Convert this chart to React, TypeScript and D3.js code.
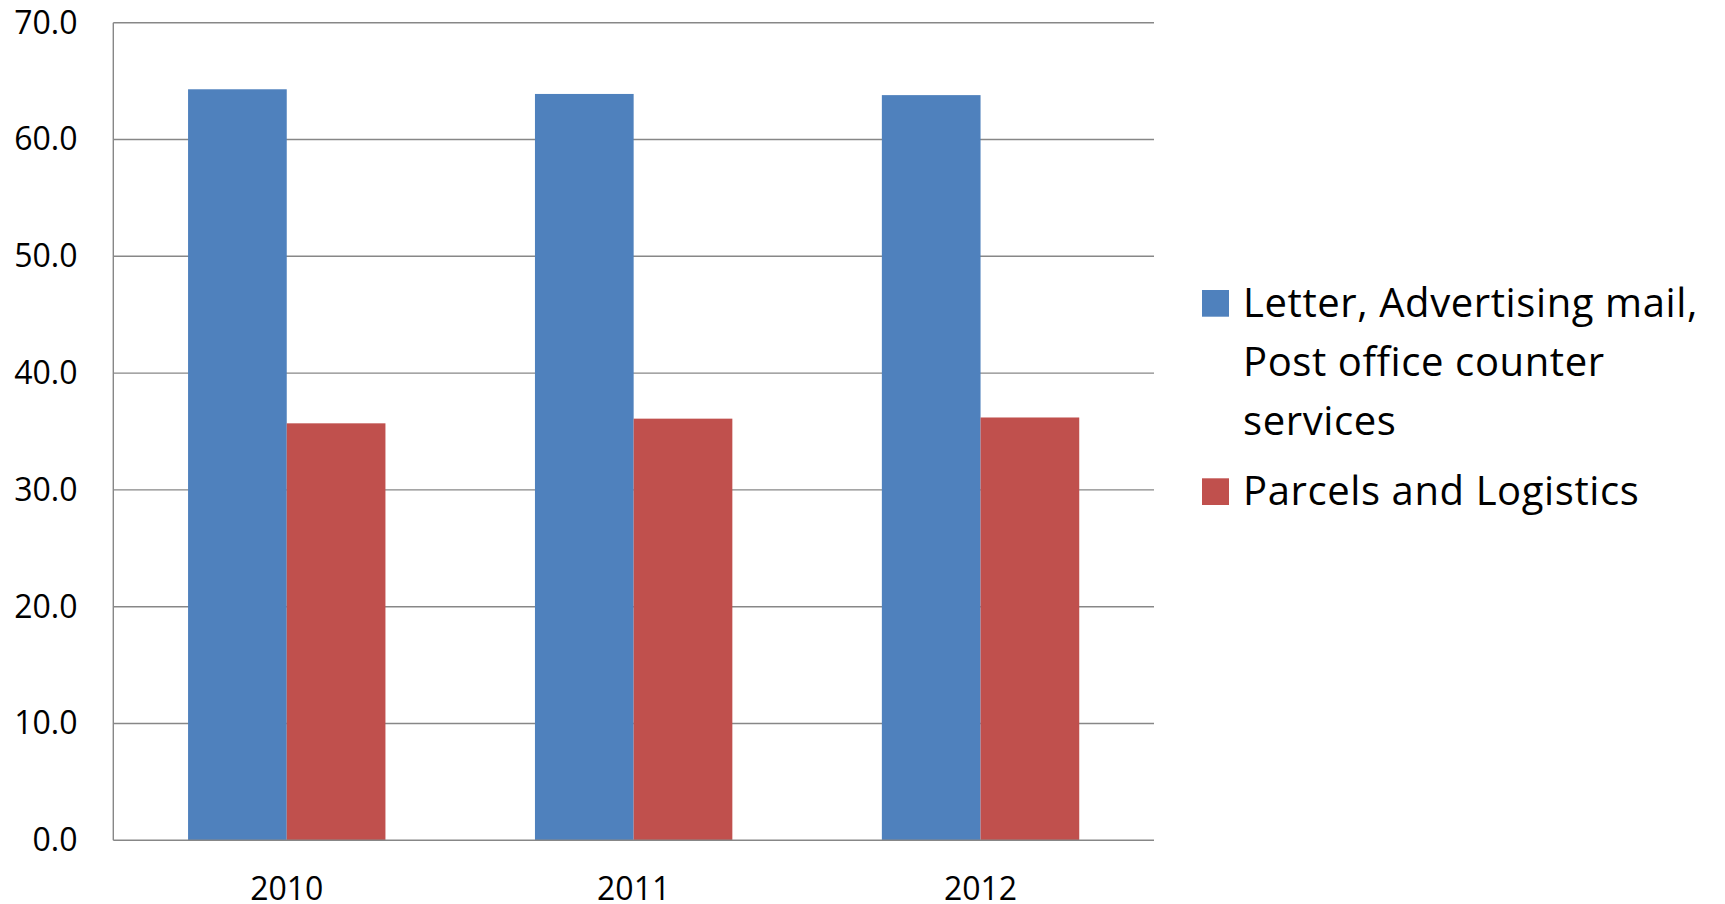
import React from "react";
import * as d3 from "d3";

const years = ["2010", "2011", "2012"];
const seriesNames = ["Letter, Advertising mail, Post office counter services", "Parcels and Logistics"];
const letterValues = [64.3, 63.9, 63.8];
const parcelValues = [35.7, 36.1, 36.2];
const yTicks = [0, 10, 20, 30, 40, 50, 60, 70];
const legendLines = [["Letter, Advertising mail,", "Post office counter", "services"], ["Parcels and Logistics"]];
const colors = ["#4F81BD", "#C0504D"];

const W = 1725, H = 904;
const left = 113.3, right = 1154, top = 22.7, bottom = 840.3;
const FONT = "'Open Sans', 'Noto Sans', sans-serif";

export default function App() {
  const series = [letterValues, parcelValues];
  const x = d3.scaleBand<string>().domain(years).range([left, right]).paddingInner(0.431).paddingOuter(0.2155);
  const x1 = d3.scaleBand<number>().domain([0, 1]).range([0, x.bandwidth()]);
  const y = d3.scaleLinear().domain([0, 70]).range([bottom, top]);
  return (
    <svg width={W} height={H} style={{ position: "absolute", left: 0, top: 0, background: "#fff" }}>
      {yTicks.map((t) => (
        <g key={t}>
          {t > 0 && <line x1={left} x2={right} y1={y(t)} y2={y(t)} stroke="#878787" strokeWidth={1.4} />}
          <text x={77.5} y={y(t) + 10.8} textAnchor="end" fontFamily={FONT} fontSize={32} fill="#000">
            {t.toFixed(1)}
          </text>
        </g>
      ))}
      {years.map((yr, i) => (
        <g key={yr}>
          {series.map((vals, s) => (
            <rect
              key={s}
              x={(x(yr) as number) + (x1(s) as number)}
              y={y(vals[i])}
              width={x1.bandwidth()}
              height={y(0) - y(vals[i])}
              fill={colors[s]}
            />
          ))}
          <text x={(x(yr) as number) + x.bandwidth() / 2} y={899.5} textAnchor="middle" fontFamily={FONT} fontSize={32} fill="#000">
            {yr}
          </text>
        </g>
      ))}
      <line x1={left} x2={left} y1={top} y2={bottom} stroke="#878787" strokeWidth={1.4} />
      <line x1={left} x2={right} y1={bottom} y2={bottom} stroke="#878787" strokeWidth={1.4} />
      {legendLines.map((lines, s) => {
        const baseY = s === 0 ? 316.7 : 505;
        return (
          <g key={s}>
            <rect x={1202} y={baseY - 26.7} width={27} height={26.7} fill={colors[s]} />
            {lines.map((ln, k) => (
              <text key={k} x={1243} y={baseY + k * 59.2} fontFamily={FONT} fontSize={40} letterSpacing={0.6} fill="#000">
                {ln}
              </text>
            ))}
          </g>
        );
      })}
      <title>{seriesNames.join(" / ")}</title>
    </svg>
  );
}
